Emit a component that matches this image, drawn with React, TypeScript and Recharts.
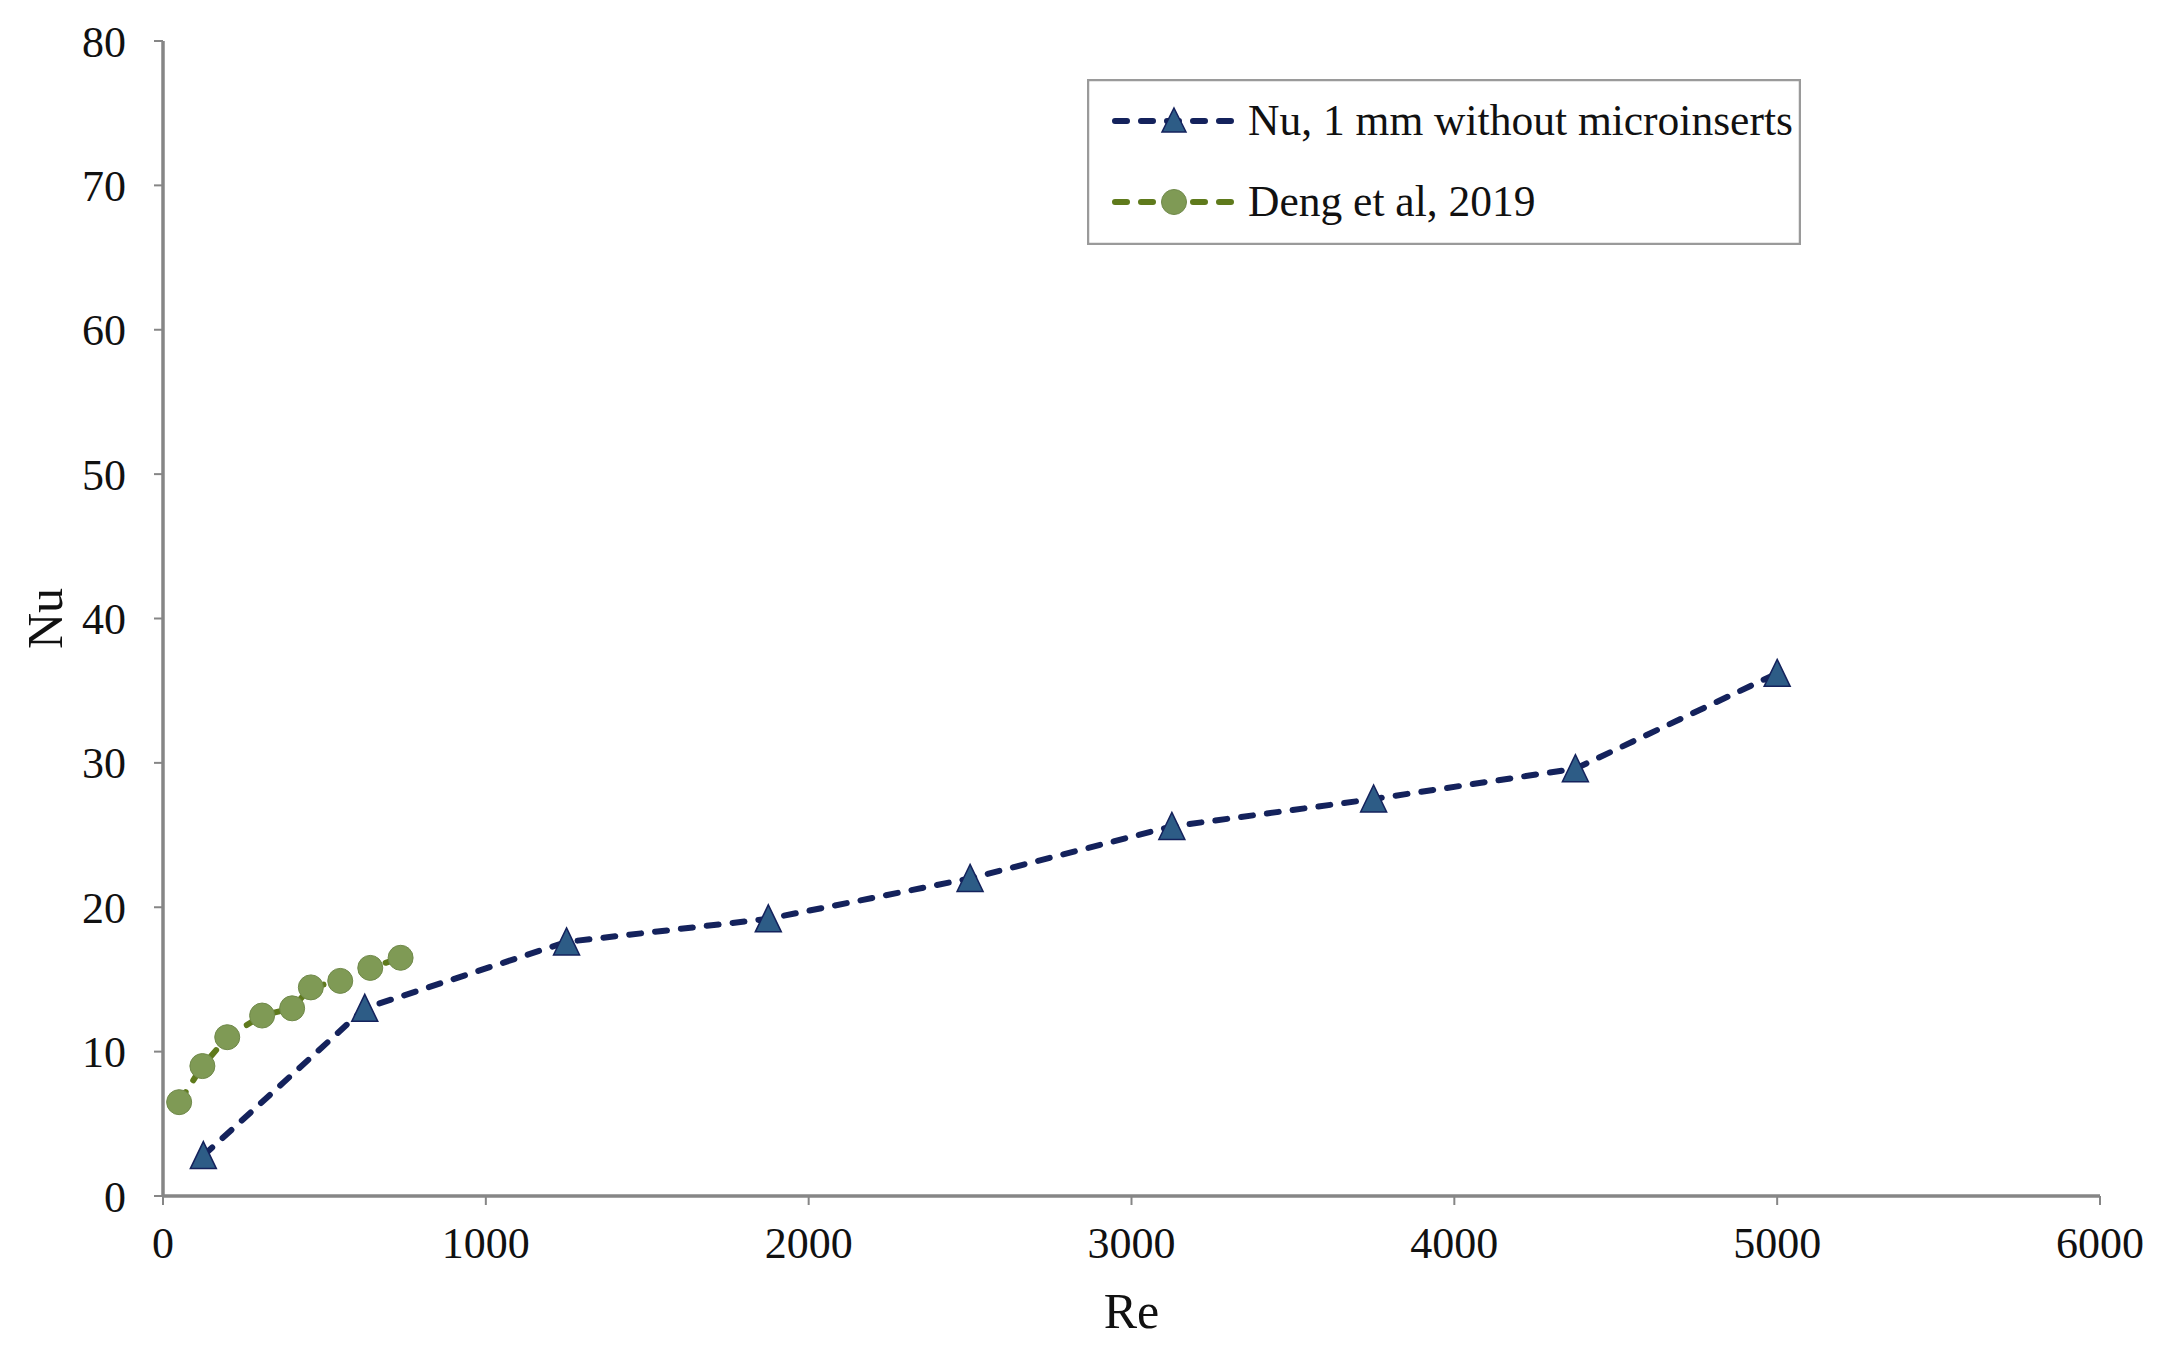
import { ScatterChart, Scatter, XAxis, YAxis } from "recharts";

// Nu, 1 mm without microinserts
const reCurrent = [125, 625, 1250, 1875, 2500, 3125, 3750, 4375, 5000];
const nuCurrent = [2.8, 13.0, 17.6, 19.2, 22.0, 25.6, 27.5, 29.6, 36.2];

// Deng et al, 2019
const reDeng = [50, 122, 199, 307, 400, 458, 549, 642, 736];
const nuDeng = [6.5, 9.0, 11.0, 12.5, 13.0, 14.45, 14.9, 15.8, 16.5];

const xTicks = [0, 1000, 2000, 3000, 4000, 5000, 6000];
const yTicks = [0, 10, 20, 30, 40, 50, 60, 70, 80];

const FONT = '"Liberation Serif", "Times New Roman", serif';
const AXIS_GREY = "#868686";
const NAVY = "#14225C";
const STEEL = "#2D5C86";
const OLIVE = "#5F7A1C";
const SAGE = "#7F9A55";
const DASH = "12 14";

const currentData = reCurrent.map((re, i) => ({ re, nu: nuCurrent[i] }));
const dengData = reDeng.map((re, i) => ({ re, nu: nuDeng[i] }));

const Triangle = (props: any) => {
  const { cx, cy } = props;
  return (
    <polygon
      points={`${cx},${cy - 14} ${cx + 13},${cy + 13} ${cx - 13},${cy + 13}`}
      fill={STEEL}
      stroke={NAVY}
      strokeWidth={1.5}
    />
  );
};

const Dot = (props: any) => {
  const { cx, cy } = props;
  return <circle cx={cx} cy={cy} r={12.5} fill={SAGE} stroke="#70894A" strokeWidth={1} />;
};

// legend drawn as a plain box on top of the chart, so it doesn't shift the plot area
function LegendBox() {
  return (
    <svg width={714} height={166} style={{ display: "block" }}>
      <rect x={1} y={1} width={712} height={164} fill="#fff" stroke="#9a9a9a" strokeWidth={2.5} />
      <line x1={28} x2={150} y1={42} y2={42} stroke={NAVY} strokeWidth={6} strokeDasharray={DASH} strokeLinecap="round" />
      <polygon points="87,29 99,53 75,53" fill={STEEL} stroke={NAVY} strokeWidth={1.5} />
      <text x={161} y={56} fontFamily={FONT} fontSize={43.5} fill="#111">
        Nu, 1 mm without microinserts
      </text>
      <line x1={28} x2={150} y1={123} y2={123} stroke={OLIVE} strokeWidth={6} strokeDasharray={DASH} strokeLinecap="round" />
      <circle cx={87} cy={123} r={12.5} fill={SAGE} stroke="#70894A" strokeWidth={1} />
      <text x={161} y={137} fontFamily={FONT} fontSize={43.5} fill="#111">
        Deng et al, 2019
      </text>
    </svg>
  );
}

export default function App() {
  return (
    <div style={{ position: "relative", width: 2150, height: 1340, background: "#fff", fontFamily: FONT }}>
      <ScatterChart width={2150} height={1340} margin={{ top: 33, right: 58, left: 0, bottom: 12 }}>
        <XAxis
          type="number"
          dataKey="re"
          domain={[0, 6000]}
          ticks={xTicks}
          height={140}
          tickSize={9}
          tickMargin={22}
          axisLine={{ stroke: AXIS_GREY, strokeWidth: 3.5 }}
          tickLine={{ stroke: AXIS_GREY, strokeWidth: 2 }}
          tick={{ fill: "#111", fontSize: 44, fontFamily: FONT }}
          label={{ value: "Re", position: "insideBottom", offset: 8, fill: "#111", fontSize: 50, fontFamily: FONT }}
        />
        <YAxis
          type="number"
          dataKey="nu"
          domain={[0, 80]}
          ticks={yTicks}
          width={155}
          tickSize={9}
          tickMargin={28}
          axisLine={{ stroke: AXIS_GREY, strokeWidth: 3.5 }}
          tickLine={{ stroke: AXIS_GREY, strokeWidth: 2 }}
          tick={{ fill: "#111", fontSize: 44, fontFamily: FONT }}
          label={{
            value: "Nu",
            angle: -90,
            position: "insideLeft",
            offset: 36,
            fill: "#111",
            fontSize: 50,
            fontFamily: FONT,
            style: { textAnchor: "middle" },
          }}
        />
        <Scatter
          name="Nu, 1 mm without microinserts"
          data={currentData}
          fill={STEEL}
          line={{ stroke: NAVY, strokeWidth: 6, strokeDasharray: DASH, strokeLinecap: "round" }}
          lineJointType="linear"
          shape={Triangle}
          isAnimationActive={false}
        />
        <Scatter
          name="Deng et al, 2019"
          data={dengData}
          fill={SAGE}
          line={{ stroke: OLIVE, strokeWidth: 6, strokeDasharray: DASH, strokeLinecap: "round" }}
          lineJointType="linear"
          shape={Dot}
          isAnimationActive={false}
        />
      </ScatterChart>
      <div style={{ position: "absolute", left: 1079, top: 71 }}>
        <LegendBox />
      </div>
    </div>
  );
}
